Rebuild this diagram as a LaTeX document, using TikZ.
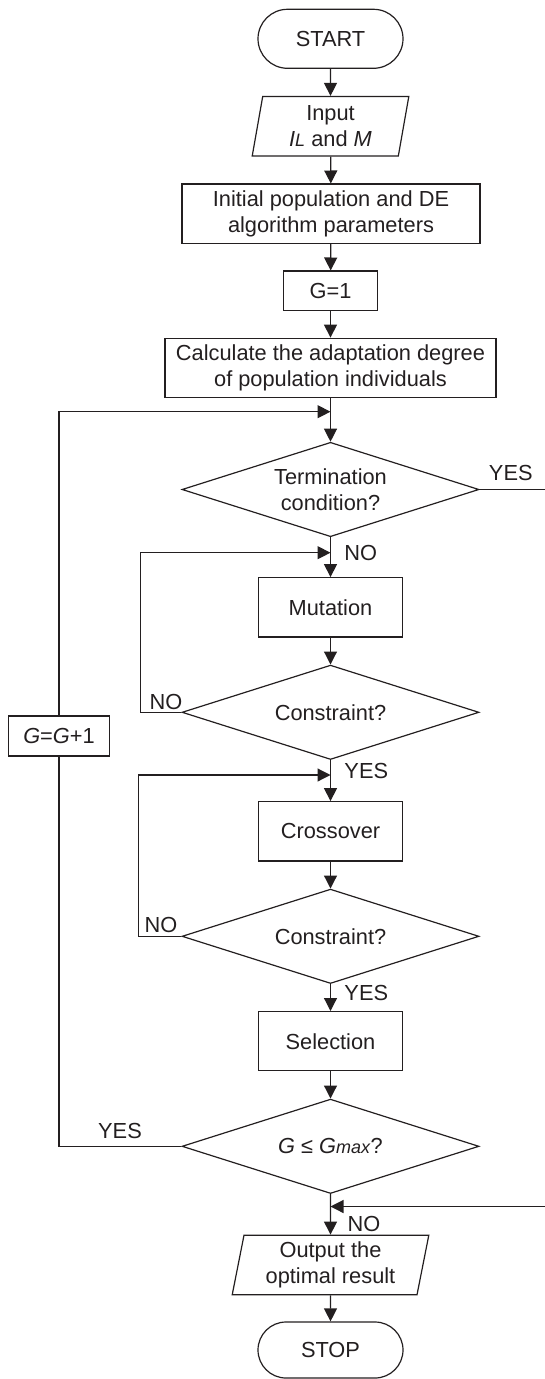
\documentclass[tikz,border=0pt]{standalone}
\usepackage{fontspec}
\setmainfont{Liberation Sans}
\usetikzlibrary{shapes.geometric,shapes.misc,arrows.meta}

\definecolor{ink}{RGB}{35,31,32}

\tikzset{
  base/.style={draw=ink, line width=0.6pt, text=ink, align=center, inner sep=0pt,
    font=\fontsize{10.9}{13}\selectfont},
  term/.style={base, rounded rectangle, minimum width=72.5pt, minimum height=29.5pt},
  io/.style={base, trapezium, trapezium left angle=75.7, trapezium right angle=104.3,
    trapezium stretches body, minimum height=29.8pt},
  proc/.style={base, rectangle, minimum height=29.6pt},
  decide/.style={base, diamond, aspect=3, minimum width=148.5pt, minimum height=47.2pt},
  flow/.style={draw=ink, line width=0.6pt, -{Triangle[length=6.5pt,width=6.5pt]}},
  link/.style={draw=ink, line width=0.6pt},
  lbl/.style={text=ink, inner sep=0pt, font=\fontsize{10.9}{13}\selectfont}
}

\newcommand{\lowit}[1]{{\fontsize{9}{9}\selectfont\textit{#1}}}

\begin{document}
\begin{tikzpicture}[x=0.5pt,y=-0.5pt]
  \useasboundingbox (0,0) rectangle (545,1379);

  % main column
  \node[term] (start) at (330.5,38.8) {START};
  \node[io, minimum width=78.3pt] (input) at (330.5,126.3) {Input\\\textit{I}\lowit{L} and \textit{M}};
  \node[proc, minimum width=149pt] (init) at (331,213.7) {Initial population and DE\\algorithm parameters};
  \node[proc, minimum width=47.2pt, minimum height=19.6pt] (gone) at (330.5,290.7) {G=1};
  \node[proc, minimum width=165.5pt] (calc) at (330.5,367.8) {Calculate the adaptation degree\\of population individuals};
  \node[decide] (term) at (330.5,489.5) {Termination\\condition?};
  \node[proc, minimum width=72.2pt] (mut) at (330.5,607.3) {Mutation};
  \node[decide] (conA) at (330.5,712.3) {Constraint?};
  \node[proc, minimum width=72.2pt] (cross) at (330.5,831.3) {Crossover};
  \node[decide] (conB) at (330.5,936.3) {Constraint?};
  \node[proc, minimum width=72.2pt] (sel) at (330.5,1041.2) {Selection};
  \node[decide] (gcheck) at (330.5,1146.3) {\textit{G} ≤ \textit{G}\lowit{max}?};
  \node[io, minimum width=98.3pt] (output) at (330.5,1265) {Output the\\optimal result};
  \node[term, minimum height=28pt] (stop) at (330.5,1350) {STOP};
  \node[proc, minimum width=50.3pt, minimum height=20pt] (inc) at (59,736) {\textit{G}=\textit{G}+1};

  % joins and free ends
  \coordinate (jA) at (330.5,411.7);
  \coordinate (jB) at (330.5,552.7);
  \coordinate (jC) at (330.5,775);
  \coordinate (jD) at (330.5,1206.5);
  \coordinate (cA) at (140.7,712.3);
  \coordinate (cB) at (138.3,936.3);
  \coordinate (edgeT) at (545,489.5);
  \coordinate (edgeB) at (545,1206.5);

  \draw[flow] (start) -- (input);
  \draw[flow] (input) -- (init);
  \draw[flow] (init) -- (gone);
  \draw[flow] (gone) -- (calc);
  \draw[flow] (calc) -- (term);
  \draw[flow] (term) -- (mut);
  \draw[flow] (mut) -- (conA);
  \draw[flow] (conA) -- (cross);
  \draw[flow] (cross) -- (conB);
  \draw[flow] (conB) -- (sel);
  \draw[flow] (sel) -- (gcheck);
  \draw[flow] (gcheck) -- (output);
  \draw[flow] (output) -- (stop);

  % loops
  \draw[link] (gcheck.west) -| (inc.south);
  \draw[flow] (inc.north) |- (jA);
  \draw[flow] (conA.west) -- (cA) |- (jB);
  \draw[flow] (conB.west) -- (cB) |- (jC);
  \draw[link] (term.east) -- (edgeT);
  \draw[flow] (edgeB) -- (jD);

  % branch labels
  \node[lbl] (yesT) at (510.8,473.3) {YES};
  \node[lbl] (noT) at (360.8,553.3) {NO};
  \node[lbl] (noA) at (166,702.2) {NO};
  \node[lbl] (yesA) at (366.3,771.3) {YES};
  \node[lbl] (noB) at (161,925.2) {NO};
  \node[lbl] (yesB) at (366.3,993.3) {YES};
  \node[lbl] (yesG) at (120,1131.2) {YES};
  \node[lbl] (noG) at (364,1224) {NO};
\end{tikzpicture}
\end{document}
